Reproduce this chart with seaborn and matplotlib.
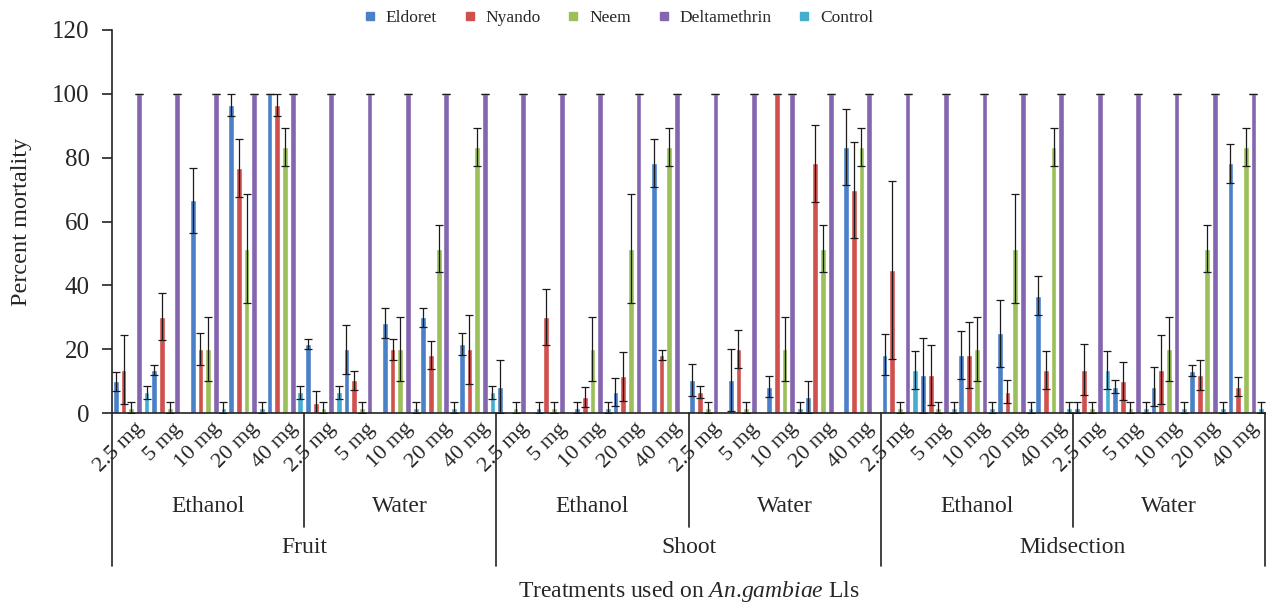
import numpy as np
import pandas as pd
import matplotlib
matplotlib.use("Agg")
import matplotlib.pyplot as plt
import matplotlib.transforms as mtransforms
from matplotlib.lines import Line2D
import seaborn as sns

# ---------------- data ----------------
doses = ["2.5 mg", "5 mg", "10 mg", "20 mg", "40 mg"]
solvents = ["Ethanol", "Water"]
parts = ["Fruit", "Shoot", "Midsection"]
series = ["Eldoret", "Nyando", "Neem", "Deltamethrin", "Control"]

eldoret = [10, 13.5, 66.7, 96.5, 100,
           21.7, 20, 28.2, 30, 21.7,
           8.3, 1.7, 1.7, 6.6, 78.2,
           10.2, 10.2, 8.3, 5, 83.3,
           18.2, 11.8, 18.2, 25, 36.8,
           1.7, 8.3, 8.3, 13.3, 78.2]
eldoret_err = [3, 1.6, 10.2, 3.5, 0,
               1.5, 7.7, 4.7, 3, 3.4,
               8.4, 1.6, 1.6, 4.5, 7.5,
               5, 9.7, 3.4, 5, 12,
               6.4, 11.7, 7.6, 10.5, 6,
               1.6, 2, 6, 1.8, 6]

nyando = [13.5, 30.2, 20, 76.7, 96.5,
          3.2, 10.2, 20, 18.2, 20,
          0, 30.2, 5, 11.5, 18.2,
          6.6, 20, 100, 78.2, 69.8,
          44.8, 11.8, 18.2, 6.6, 13.5,
          13.5, 10, 13.5, 11.8, 8.3]
nyando_err = [10.8, 7.4, 5, 9, 3.5,
              3.6, 3, 3.3, 4.5, 10.8,
              np.nan, 8.8, 3, 7.6, 1.6,
              2, 6, 0, 12, 15,
              28, 9.4, 10.4, 3.6, 6,
              8, 6, 10.8, 4.7, 3]

neem = [1.7, 1.7, 20, 51.5, 83.3,
        1.7, 1.7, 20, 51.5, 83.3,
        1.7, 1.7, 20, 51.5, 83.3,
        1.7, 1.7, 20, 51.5, 83.3,
        1.7, 1.7, 20, 51.5, 83.3,
        1.7, 1.7, 20, 51.5, 83.3]
neem_err = [1.7, 1.7, 10, 17, 6,
            1.7, 1.7, 10, 7.3, 6,
            1.7, 1.7, 10, 17, 6,
            1.7, 1.7, 10, 7.3, 6,
            1.7, 1.7, 10, 17, 6,
            1.7, 1.7, 10, 7.3, 6]

deltamethrin = [100] * 30
deltamethrin_err = [0] * 30

control = [6.5, 0, 1.7, 1.7, 6.5,
           6.5, 0, 1.7, 1.7, 6.5,
           0, 0, 1.7, 0, 0,
           0, 0, 1.7, 0, 0,
           13.5, 1.7, 1.7, 1.7, 1.7,
           13.5, 1.7, 1.7, 1.7, 1.7]
control_err = [2, np.nan, 1.7, 1.7, 2,
               2, np.nan, 1.7, 1.7, 2,
               np.nan, np.nan, 1.7, np.nan, np.nan,
               np.nan, np.nan, 1.7, np.nan, np.nan,
               6, 1.7, 1.7, 1.7, 1.7,
               6, 1.7, 1.7, 1.7, 1.7]

colors = ["#4a80c8", "#d0504d", "#9bbf5a", "#8466b0", "#45aed0"]

# ---------------- build table ----------------
groups = [f"{p}|{s}|{d}" for p in parts for s in solvents for d in doses]
vals = [eldoret, nyando, neem, deltamethrin, control]
errs = [eldoret_err, nyando_err, neem_err, deltamethrin_err, control_err]
rows = []
for name, v in zip(series, vals):
    for g, x in zip(groups, v):
        rows.append({"group": g, "series": name, "value": x})
df = pd.DataFrame(rows)

# ---------------- plot ----------------
sns.set_style("white")
plt.rcParams["font.family"] = ["Liberation Serif", "DejaVu Serif"]
plt.rcParams["mathtext.fontset"] = "custom"
plt.rcParams["mathtext.rm"] = "Liberation Serif"
plt.rcParams["mathtext.it"] = "Liberation Serif:italic"

fig = plt.figure(figsize=(12.66, 6.08), dpi=100)
ax = fig.add_axes([112 / 1266, 1 - 413 / 608, (1265 - 112) / 1266, (413 - 30) / 608])

sns.barplot(data=df, x="group", y="value", hue="series", order=groups,
            hue_order=series, palette=colors, width=1.0, gap=0.25,
            errorbar=None, legend=False, ax=ax, saturation=1)

for cont, e in zip(ax.containers, errs):
    xs = [p.get_x() + p.get_width() / 2 for p in cont.patches]
    ys = [p.get_height() for p in cont.patches]
    ax.errorbar(xs, ys, yerr=np.array(e, dtype=float), fmt="none",
                ecolor="#1a1a1a", elinewidth=0.9, capsize=2.6, capthick=0.9,
                zorder=5)

ax.set_ylim(0, 120)
ax.set_yticks(range(0, 121, 20))
ax.set_xlim(-0.5, 29.5)
for s in ["top", "right"]:
    ax.spines[s].set_visible(False)
for s in ["left", "bottom"]:
    ax.spines[s].set_color("#222222")
    ax.spines[s].set_linewidth(1.2)
ax.tick_params(axis="y", which="major", direction="out", length=7, width=1.2,
               color="#222222", labelsize=18, pad=9, left=True)
ax.tick_params(axis="x", length=0, pad=0, labelsize=16)
ax.set_xticks(range(30))
ax.set_xticklabels(doses * 6)
offset = mtransforms.ScaledTranslation(10 / 100, -13 / 100, fig.dpi_scale_trans)
for lab in ax.get_xticklabels():
    lab.set_rotation(45)
    lab.set_ha("right")
    lab.set_va("center")
    lab.set_rotation_mode("anchor")
    lab.set_transform(lab.get_transform() + offset)

ax.set_ylabel("Percent mortality", fontsize=17.5)
ax.yaxis.set_label_coords(-0.069, 0.5)
ax.set_xlabel("")

# group separators and labels
trans = mtransforms.blended_transform_factory(ax.transData, ax.transAxes)
for k in range(len(parts) + 1):
    xb = k * 10 - 0.5
    ax.plot([xb, xb], [0, -0.40], color="#222222", lw=1.2, transform=trans,
            clip_on=False)
for k in range(len(parts)):
    xb = k * 10 + 4.5
    ax.plot([xb, xb], [0, -0.298], color="#222222", lw=1.2, transform=trans,
            clip_on=False)
for k in range(len(parts) * len(solvents)):
    ax.text(k * 5 + 2, -0.245, solvents[k % 2], transform=trans, ha="center",
            va="center", fontsize=17)
for k, p in enumerate(parts):
    ax.text(k * 10 + 4.5, -0.352, p, transform=trans, ha="center",
            va="center", fontsize=17)
ax.text(0.5, -0.467, r"Treatments used on $\mathit{An}$.$\mathit{gambiae}$ Lls",
        transform=ax.transAxes, ha="center", va="center", fontsize=17)

# legend
handles = [Line2D([0], [0], marker="s", linestyle="none", markersize=6,
                  markerfacecolor=c, markeredgecolor=c) for c in colors]
fig.legend(handles, series, loc="center", bbox_to_anchor=(618 / 1266, 1 - 18 / 608),
           ncol=5, frameon=False, fontsize=12.5, handlelength=0.8,
           handletextpad=0.5, columnspacing=1.5)

fig.savefig("out.png", dpi=100)
